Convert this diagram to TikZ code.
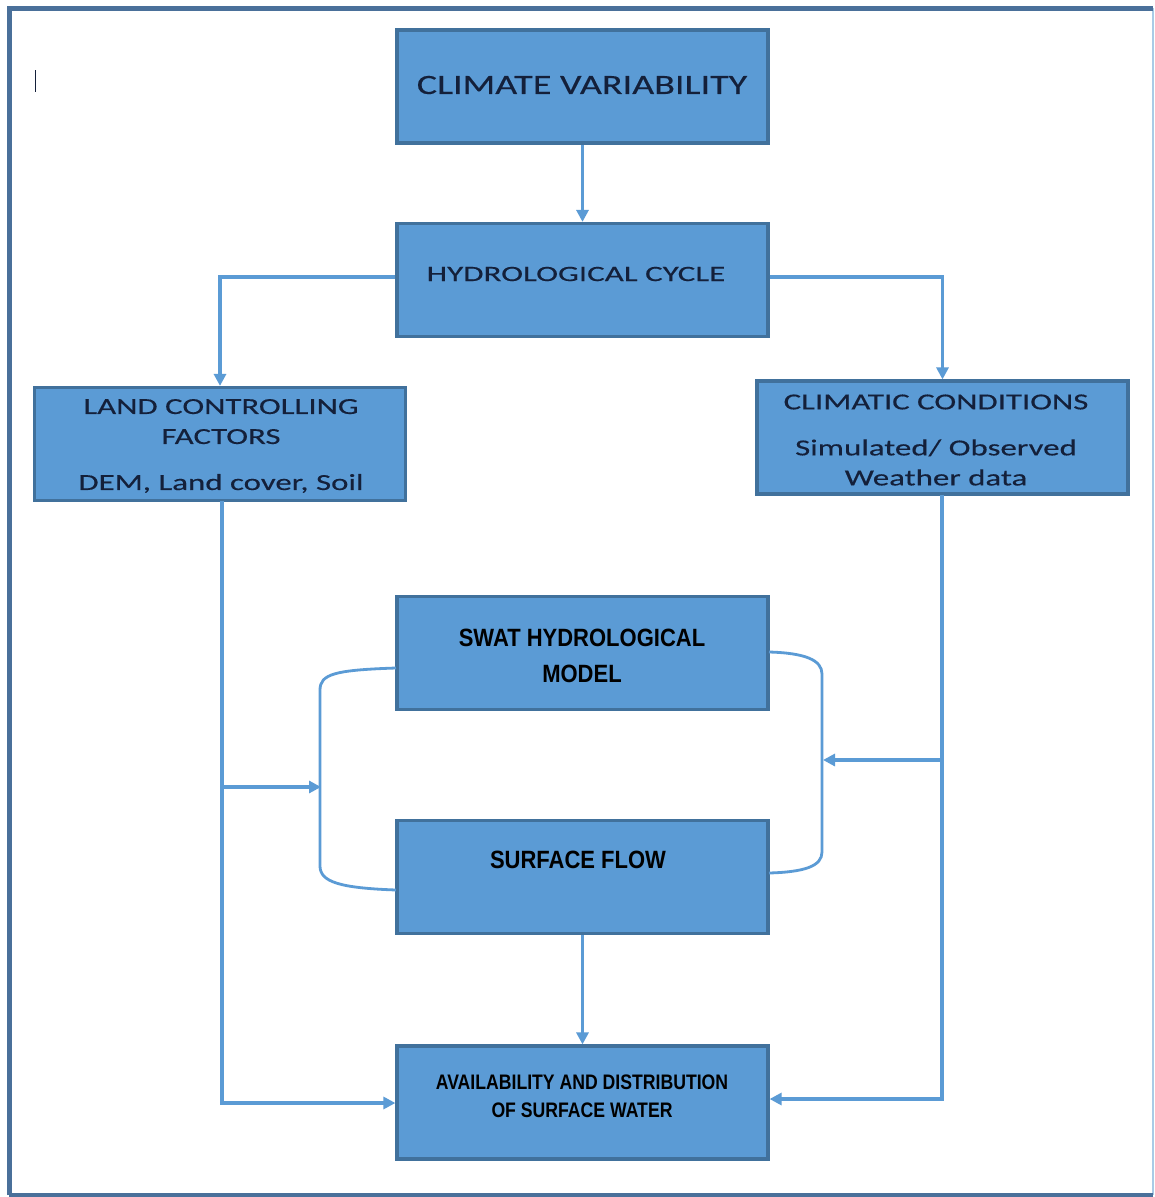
\documentclass[tikz,border=0pt]{standalone}
\usepackage{fontspec}
\usetikzlibrary{arrows.meta}
\newfontfamily\capfont[FakeStretch=1.43,FakeBold=0.3]{Carlito}
\newfontfamily\cvfont[FakeStretch=1.36,FakeBold=0.3]{Carlito}
\newfontfamily\hcfont[FakeStretch=1.5,FakeBold=0.3]{Carlito}
\newfontfamily\boldnarrow[FakeStretch=0.88]{Liberation Sans}
\newfontfamily\boldnarrowav[FakeStretch=0.84]{Liberation Sans}
\definecolor{boxfill}{HTML}{5B9BD5}
\definecolor{boxline}{HTML}{41719C}
\definecolor{frameline}{HTML}{4A709A}
\definecolor{arrowc}{HTML}{5B9BD5}
\definecolor{navytext}{HTML}{14203A}
\definecolor{rightedge}{HTML}{A9CBE6}
\tikzset{
  box/.style={draw=boxline, line width=3.2pt, fill=boxfill, minimum width=371pt, minimum height=113pt, inner sep=0pt},
  lbl/.style={text=navytext, align=center, inner sep=0pt},
  blbl/.style={text=black, align=center, inner sep=0pt},
  conn/.style={draw=arrowc, line width=3.4pt},
  arr/.style={conn, -{Triangle[length=12pt,width=12pt]}},
}
\begin{document}
\begin{tikzpicture}[x=1pt,y=-1pt]
\useasboundingbox (0,0) rectangle (1155,1197);
\fill[white] (0,0) rectangle (1155,1197);
% frame
\draw[rightedge, line width=1.2pt] (1153,8) -- (1153,1195);
\draw[frameline, line width=3.5pt] (1153,1195) -- (9,1195);
\draw[frameline, line width=5pt] (9,1195) -- (9,8.5) -- (1153,8.5);
\draw[navytext, line width=1.4pt] (35.5,70) -- (35.5,92);

% boxes
\node[box] (cv) at (582.5,86.5) {};
\node[box] (hc) at (582.5,280) {};
\node[box] (lcf) at (220,444) {};
\node[box] (cc) at (942.5,437.5) {};
\node[box] (swat) at (582.5,653) {};
\node[box] (sf) at (582.5,877) {};
\node[box] (av) at (582.5,1102.5) {};

% labels
\node[lbl, font=\cvfont\fontsize{28}{30}\selectfont] (cvt) at (582,85) {CLIMATE VARIABILITY};
\node[lbl, font=\hcfont\fontsize{22}{24}\selectfont] (hct) at (576,274) {HYDROLOGICAL CYCLE};
\node[lbl, font=\capfont\fontsize{23}{30}\selectfont] (lcft) at (221,446) {LAND CONTROLLING\\FACTORS\\[16pt]DEM, Land cover, Soil};
\node[lbl, font=\capfont\fontsize{23}{30}\selectfont] (cct) at (936,440) {CLIMATIC CONDITIONS\\[16pt]Simulated/ Observed\\Weather data};
\node[blbl, font=\boldnarrow\bfseries\fontsize{25}{36}\selectfont] (swatt) at (582,656) {SWAT HYDROLOGICAL\\MODEL};
\node[blbl, font=\boldnarrow\bfseries\fontsize{25}{30}\selectfont] (sft) at (578,860) {SURFACE FLOW};
\node[blbl, font=\boldnarrowav\bfseries\fontsize{21}{28}\selectfont] (avt) at (582,1096) {AVAILABILITY AND DISTRIBUTION\\OF SURFACE WATER};

% connectors
\coordinate (hcL) at (396,277);
\coordinate (hcR) at (769,277);
\draw[arr] (cv.south) -- (hc.north);
\draw[arr] (hc.west |- hcL) -| (lcf.north);
\draw[arr] (hc.east |- hcR) -| (cc.north);
\coordinate (lcfB) at (222,501);
\coordinate (lcfTurn) at (222,1103);
\coordinate (lcfBranch) at (222,787);
\coordinate (leftLoopIn) at (321,787);
\draw[arr] (lcfB) -- (lcfTurn) -- (av.west |- lcfTurn);
\draw[arr] (lcfBranch) -- (leftLoopIn);
\coordinate (ccB) at (942,495);
\coordinate (ccTurn) at (942,1099);
\coordinate (ccBranch) at (942,760);
\coordinate (rightLoopIn) at (823,760);
\draw[arr] (ccB) -- (ccTurn) -- (av.east |- ccTurn);
\draw[arr] (ccBranch) -- (rightLoopIn);
\draw[arr] (sf.south) -- (av.north);
% loops
\coordinate (swL) at (396,668);
\coordinate (sfL) at (396,890);
\coordinate (swR) at (769,652);
\coordinate (sfR) at (769,873);
\draw[conn, line width=2.8pt] (swL) .. controls (335,670) and (320,674) .. (320,690) -- (320,866) .. controls (320,882) and (340,888) .. (sfL);
\draw[conn, line width=2.8pt] (swR) .. controls (805,653) and (822,660) .. (822,674) -- (822,852) .. controls (822,866) and (805,872) .. (sfR);
\end{tikzpicture}
\end{document}
